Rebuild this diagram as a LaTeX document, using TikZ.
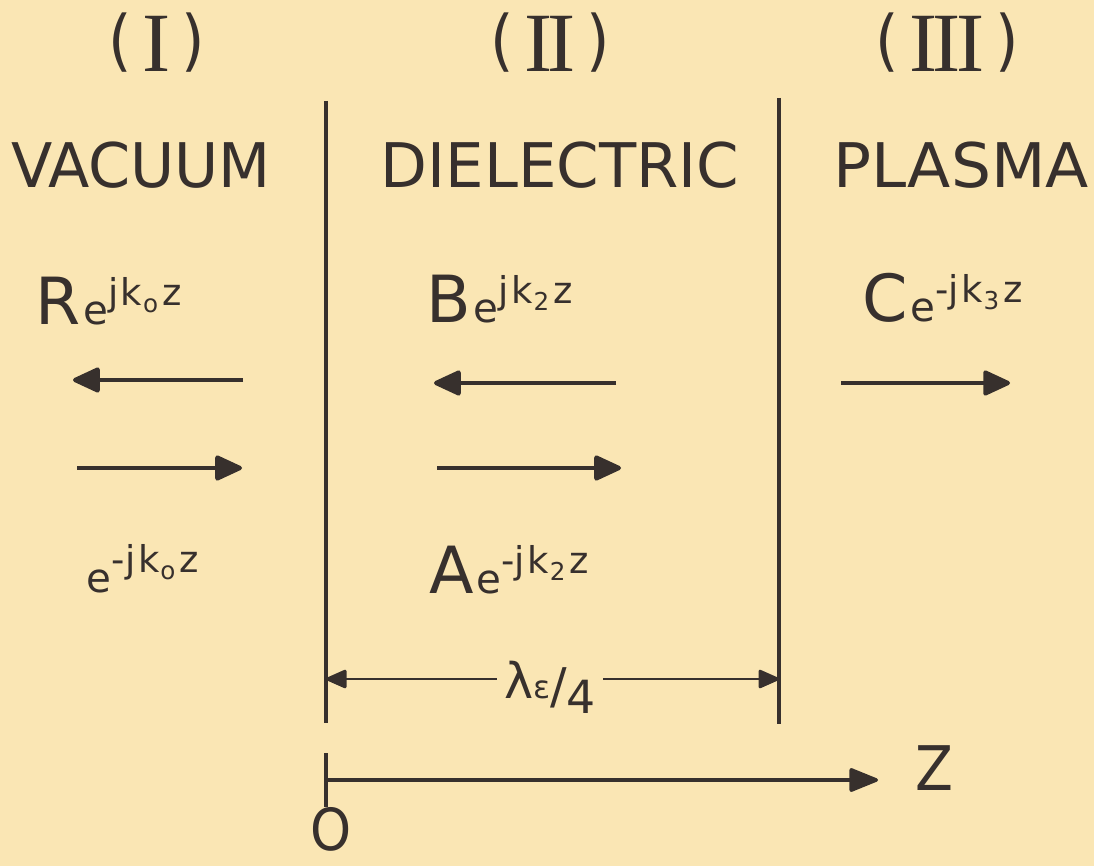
\documentclass[tikz,border=0pt]{standalone}
\usepackage{fontspec}
\setmainfont{DejaVu Sans Condensed}
\newfontfamily\numfont{Liberation Serif}
\newfontfamily\lblfont{DejaVu Sans}
\usetikzlibrary{arrows.meta}
\definecolor{paper}{RGB}{250,230,180}
\definecolor{ink}{RGB}{55,48,45}

% sizes for the wave labels
\newcommand{\ampsz}{\fontsize{37}{37}\selectfont}
\newcommand{\esz}{\fontsize{23}{23}\selectfont}
\newcommand{\expsz}{\fontsize{21}{21}\selectfont}
\newcommand{\idxsz}{\fontsize{14}{14}\selectfont}
\newcommand{\wavelbl}[3]{\lblfont{\ampsz #1}\kern1.5pt{\esz e}\raisebox{11pt}{\expsz #2j\kern1.5pt k\kern0.5pt\raisebox{-4pt}{\idxsz #3}\kern2.5pt z}}
\newcommand{\region}[1]{{\fontsize{38}{38}\selectfont\raisebox{5pt}{(}\hspace{6pt}{\numfont\fontsize{48}{48}\selectfont #1}\hspace{6pt}\raisebox{5pt}{)}}}

\begin{document}
\begin{tikzpicture}[
  x=0.2mm, y=-0.2mm,
  every node/.style={text=ink, inner sep=0pt},
  heading/.style={font=\fontsize{35}{35}\selectfont, anchor=base},
  wavetext/.style={anchor=base west},
  wall/.style={draw=ink, line width=1.8pt},
  wavearrow/.style={-{Triangle[length=17pt,width=15pt,round]}, draw=ink, line width=2.4pt},
  dimarrow/.style={-{Triangle[length=13pt,width=11pt,round]}, draw=ink, line width=1.7pt},
  axisarrow/.style={-{Triangle[length=18pt,width=14pt,round]}, draw=ink, line width=2pt}
]
\fill[paper] (0,0) rectangle (1094,866);
\useasboundingbox (0,0) rectangle (1094,866);

% region headings
\node[anchor=base] (hI) at (157,72) {\region{I}};
\node[anchor=base] (hII) at (550,72) {\region{I\kern-0.05em I}};
\node[anchor=base] (hIII) at (947,72) {\region{I\kern-0.05em I\kern-0.05em I}};
\node[heading] (vacuum) at (141,188) {\scalebox{1.09}[1]{VACUUM}};
\node[heading] (dielectric) at (560,188) {\scalebox{1.1}[1]{DIELECTRIC}};
\node[heading] (plasma) at (961,188) {\scalebox{1.14}[1]{PLASMA}};

% boundaries
\coordinate (wallLtop) at (326,101);
\coordinate (wallLbot) at (326,723);
\coordinate (wallRtop) at (779,98);
\coordinate (wallRbot) at (779,724);
\draw[wall] (wallLtop) -- (wallLbot);
\draw[wall] (wallRtop) -- (wallRbot);

% waves
\node[wavetext] (refl) at (35,325) {\wavelbl{R}{}{o}};
\node[wavetext] (back) at (426,323) {\wavelbl{B}{}{2}};
\node[wavetext] (trans) at (862,322) {\wavelbl{C}{-}{3}};
\node[wavetext] (inc) at (84,592) {\wavelbl{}{-}{o}};
\node[wavetext] (fwd) at (429,593) {\wavelbl{A}{-}{2}};

\coordinate (reflS) at (243,380); \coordinate (reflE) at (73,380);
\coordinate (incS) at (77,468);   \coordinate (incE) at (242,468);
\coordinate (backS) at (616,383); \coordinate (backE) at (434,383);
\coordinate (fwdS) at (437,468);  \coordinate (fwdE) at (621,468);
\coordinate (transS) at (841,383); \coordinate (transE) at (1010,383);
\draw[wavearrow] (reflS) -- (reflE);
\draw[wavearrow] (incS) -- (incE);
\draw[wavearrow] (backS) -- (backE);
\draw[wavearrow] (fwdS) -- (fwdE);
\draw[wavearrow] (transS) -- (transE);

% quarter wave thickness
\coordinate (dimy) at (0,679);
\node[inner xsep=4pt, anchor=base] (dimlbl) at (550,698) {\lblfont\fontsize{28}{28}\selectfont λ{\fontsize{18}{18}\selectfont ε}\raisebox{-3pt}{/}\raisebox{-9pt}{\fontsize{26}{26}\selectfont 4}};
\draw[dimarrow] (dimlbl.west |- dimy) -- (wallLtop |- dimy);
\draw[dimarrow] (dimlbl.east |- dimy) -- (wallRtop |- dimy);

% z axis
\coordinate (origin) at (326,780);
\coordinate (tickT) at (326,753);
\coordinate (tickB) at (326,807);
\coordinate (zend) at (878,780);
\draw[wall] (tickT) -- (tickB);
\draw[axisarrow] (origin) -- (zend);
\node[font=\fontsize{35}{35}\selectfont] (zlbl) at (934,768) {Z};
\node[font=\fontsize{33}{33}\selectfont] (olbl) at (331,829) {O};
\end{tikzpicture}
\end{document}
